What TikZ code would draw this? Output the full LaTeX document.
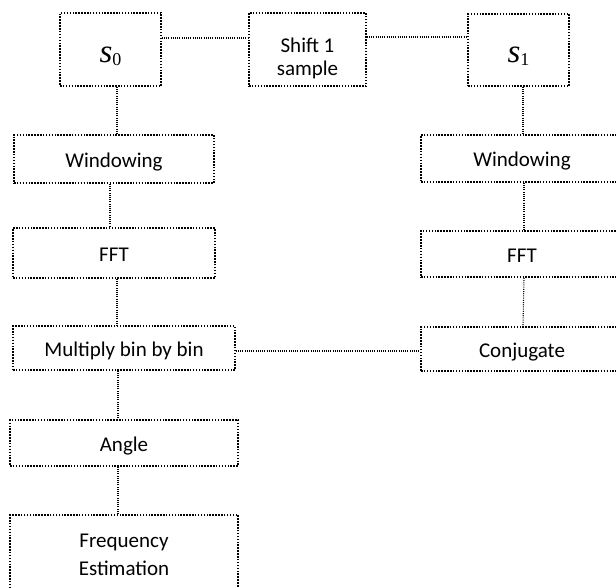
\documentclass[tikz,border=0pt]{standalone}
\usepackage{fontspec}
\setmainfont{Carlito}
\newfontfamily\timesfont{Liberation Serif}
\usepackage{tikz}

% signal name, italic s with an upright index
\newcommand\sig[1]{{\timesfont\fontsize{33}{33}\selectfont\itshape s}\raisebox{-3pt}{\timesfont\fontsize{18}{18}\selectfont #1}}

\tikzset{
  block/.style={draw, rectangle, line width=1.7pt, dash pattern=on 1.5pt off 1.4pt,
    inner sep=0pt, align=center, font=\fontsize{21}{23}\selectfont,
    text height=17pt, text depth=1pt},
  link/.style={line width=1.1pt, dash pattern=on 1pt off 1.2pt}
}

\begin{document}
\begin{tikzpicture}[x=1pt,y=-1pt]
      \useasboundingbox (0,0) rectangle (616,587);
      \clip (0,0) rectangle (616,587);
      % the two signals and the shift between them
      \begin{scope}[block/.append style={minimum height=73pt}]
        \node[block, minimum width=101pt, text height=25pt, text depth=0pt] (s0) at (110.5,49.5) {\sig{0}};
        \node[block, minimum width=117pt, text height=51pt, text depth=0pt] (shift) at (307.5,49.5) {Shift 1\\sample};
        \node[block, minimum width=101pt, minimum height=72pt, text height=25pt, text depth=0pt] (s1) at (518.5,50) {\sig{1}};
      \end{scope}
      % left column
      \node[block, minimum width=200pt, minimum height=48pt] (winL) at (114,159) {Windowing};
      \node[block, minimum width=202pt, minimum height=50pt] (fftL) at (114,253) {FFT};
      \node[block, minimum width=222pt, minimum height=44pt] (mult) at (124,348) {Multiply bin by bin};
      \node[block, minimum width=228pt, minimum height=46pt] (angle) at (124,443) {Angle};
      % this one runs out of the page at the bottom
      \node[block, minimum width=228pt, minimum height=90pt, font=\fontsize{21}{28}\selectfont,
            text height=30pt, text depth=0pt] (freq) at (124,560) {Frequency\\Estimation};
      % right column, cut by the page on the right
      \begin{scope}[block/.append style={minimum width=202pt}]
        \node[block, minimum height=47pt] (winR) at (522,158.5) {Windowing};
        \node[block, minimum height=46pt] (fftR) at (522,254) {FFT};
        \node[block, minimum height=44pt] (conj) at (522,349) {Conjugate};
      \end{scope}
      % connectors
      \draw[link] ([yshift=11.5pt]s0.east) -- ([yshift=11.5pt]shift.west);
      \draw[link] ([yshift=12.5pt]shift.east) -- ([yshift=13pt]s1.west);
      \draw[link] ([xshift=6.5pt]s0.south) -- ([xshift=3pt]winL.north);
      \draw[link] ([xshift=-4pt]winL.south) -- ([xshift=-4pt]fftL.north);
      \draw[link] ([xshift=3pt]fftL.south) -- ([xshift=-7pt]mult.north);
      \draw[link] ([xshift=-6pt]mult.south) -- ([xshift=-6pt]angle.north);
      \draw[link] ([xshift=-6pt]angle.south) -- ([xshift=-6pt]freq.north);
      \draw[link] ([xshift=4.5pt]s1.south) -- ([xshift=1pt]winR.north);
      \draw[link] ([xshift=2pt]winR.south) -- ([xshift=2pt]fftR.north);
      \draw[link] ([xshift=2pt]fftR.south) -- ([xshift=1pt]conj.north);
      \draw[link] ([yshift=-3pt]mult.east) -- ([yshift=-2pt]conj.west);
\end{tikzpicture}
\end{document}
